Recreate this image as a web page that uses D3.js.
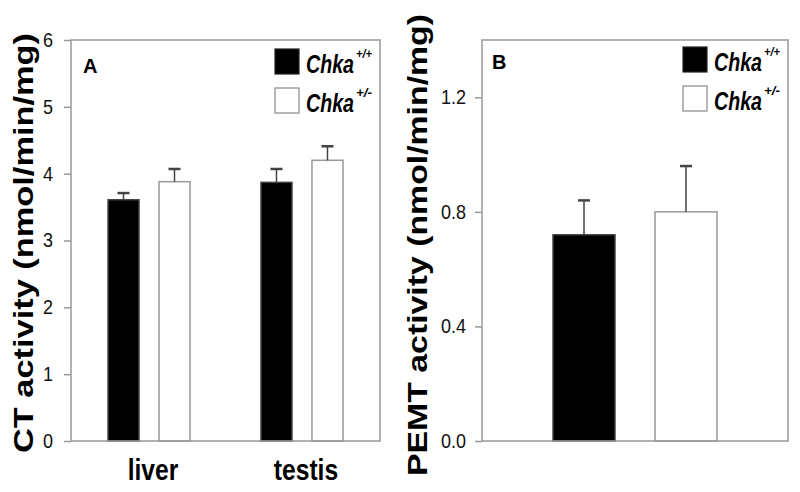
<!DOCTYPE html>
<html>
<head>
<meta charset="utf-8">
<script src="https://cdn.jsdelivr.net/npm/d3@7"></script>
<style>
  body { margin: 0; background: #fff; }
  svg { display: block; }
</style>
</head>
<body>
<div id="chart"></div>
<script>
/** data **/
var genotypes = ["+/+", "+/-"];
var tissues = ["liver", "testis"];
var ctMean = [[3.61, 3.88], [3.87, 4.20]];   // per tissue: [+/+, +/-]
var ctErr = [[0.10, 0.19], [0.20, 0.21]];
var ctTicks = [0, 1, 2, 3, 4, 5, 6];
var pemtMean = [0.72, 0.80];
var pemtErr = [0.12, 0.16];
var pemtTicks = [0, 0.4, 0.8, 1.2];

var width = 800,
    height = 492,
    font = "'Liberation Sans', Arial, sans-serif",
    frameColor = "#999",
    barColor = ["#000", "#fff"],
    barStroke = ["#444", "#999"];

var svg = d3.select("#chart").append("svg")
    .attr("width", width)
    .attr("height", height);

/** panel boxes **/
var panelA = {left: 71, right: 380, top: 40, bottom: 441},
    panelB = {left: 482, right: 788, top: 40, bottom: 441};

/** scales **/
var yA = d3.scaleLinear().domain([0, 6]).range([panelA.bottom, panelA.top]);
var yB = d3.scaleLinear().domain([0, 1.4]).range([panelB.bottom, panelB.top]);

var xA = d3.scalePoint().domain(tissues).range([panelA.left, panelA.right]).padding(0.51);
var subA = d3.scaleBand().domain(genotypes).range([-41, 41]).paddingInner(0.392);

var xB = d3.scalePoint().domain(["PEMT"]).range([panelB.left, panelB.right]).padding(0.5);
var subB = d3.scaleBand().domain(genotypes).range([-82, 82]).paddingInner(0.392);

// squeeze a text node horizontally (the figure uses a condensed face)
function condense(sel, k) {
    sel.each(function() {
        var w = this.getComputedTextLength();
        d3.select(this)
            .attr("textLength", w * k)
            .attr("lengthAdjust", "spacingAndGlyphs");
    });
}

function drawFrame(p) {
    svg.append("rect")
        .attr("x", p.left)
        .attr("y", p.top)
        .attr("width", p.right - p.left)
        .attr("height", p.bottom - p.top)
        .style("fill", "none")
        .style("stroke", frameColor)
        .style("stroke-width", 1.5);
}

function drawAxis(p, y, ticks, fmt, pad) {
    var g = svg.append("g")
        .attr("transform", "translate(" + p.left + ",0)")
        .call(d3.axisLeft(y).tickValues(ticks).tickFormat(fmt).tickSize(7).tickPadding(pad));
    g.attr("font-size", null).attr("font-family", null);
    g.select(".domain").remove();
    g.selectAll(".tick line").style("stroke", frameColor).style("stroke-width", 1.5);
    g.selectAll(".tick text")
        .style("font-family", font)
        .style("font-size", "20px")
        .style("fill", "#111");
    condense(g.selectAll(".tick text"), 0.9);
}

// draw bars + upward error bars for one group
function drawBars(cx, sub, y, means, errs) {
    var data = genotypes.map(function(gt, i) {
        return {gt: gt, i: i, v: means[i], e: errs[i]};
    });
    var g = svg.append("g");
    g.selectAll(".bar")
        .data(data)
        .enter().append("rect")
        .attr("class", "bar")
        .attr("x", function(d) { return cx + sub(d.gt); })
        .attr("y", function(d) { return y(d.v); })
        .attr("width", sub.bandwidth())
        .attr("height", function(d) { return y(0) - y(d.v); })
        .style("fill", function(d) { return barColor[d.i]; })
        .style("stroke", function(d) { return barStroke[d.i]; })
        .style("stroke-width", 1.5);

    g.selectAll(".err")
        .data(data)
        .enter().append("line")
        .attr("class", "err")
        .attr("x1", function(d) { return cx + sub(d.gt) + sub.bandwidth() / 2; })
        .attr("x2", function(d) { return cx + sub(d.gt) + sub.bandwidth() / 2; })
        .attr("y1", function(d) { return y(d.v); })
        .attr("y2", function(d) { return y(d.v + d.e); })
        .style("stroke", "#444")
        .style("stroke-width", 1.5);

    g.selectAll(".cap")
        .data(data)
        .enter().append("line")
        .attr("class", "cap")
        .attr("x1", function(d) { return cx + sub(d.gt) + sub.bandwidth() / 2 - 6; })
        .attr("x2", function(d) { return cx + sub(d.gt) + sub.bandwidth() / 2 + 6; })
        .attr("y1", function(d) { return y(d.v + d.e); })
        .attr("y2", function(d) { return y(d.v + d.e); })
        .style("stroke", "#444")
        .style("stroke-width", 2.5);
}

function drawLegend(x, y) {
    genotypes.forEach(function(gt, i) {
        var top = y + i * 39;
        svg.append("rect")
            .attr("x", x)
            .attr("y", top)
            .attr("width", 24)
            .attr("height", 25)
            .style("fill", barColor[i])
            .style("stroke", i ? "#888" : "#222")
            .style("stroke-width", 1.2);
        var t = svg.append("text")
            .attr("x", x + 31)
            .attr("y", top + 24)
            .style("font-family", font)
            .style("font-weight", "bold")
            .style("font-style", "italic");
        t.append("tspan")
            .attr("textLength", 48)
            .attr("lengthAdjust", "spacingAndGlyphs")
            .style("font-size", "26px")
            .text("Chka");
        // superscript genotype
        t.append("tspan")
            .attr("dx", 2)
            .attr("dy", -15)
            .attr("textLength", 16)
            .attr("lengthAdjust", "spacingAndGlyphs")
            .style("font-size", "12px")
            .text(gt);
    });
}

function panelLabel(x, y, s) {
    svg.append("text")
        .attr("x", x)
        .attr("y", y)
        .style("font-family", font)
        .style("font-weight", "bold")
        .style("font-size", "20px")
        .text(s);
}

function yTitle(x, cy, len, s) {
    svg.append("text")
        .attr("transform", "translate(" + x + "," + cy + ") rotate(-90)")
        .attr("text-anchor", "middle")
        .attr("textLength", len)
        .attr("lengthAdjust", "spacingAndGlyphs")
        .style("font-family", font)
        .style("font-weight", "bold")
        .style("font-size", "28px")
        .text(s);
}

/** Panel A **/
tissues.forEach(function(t, k) {
    drawBars(xA(t), subA, yA, ctMean[k], ctErr[k]);
});
drawFrame(panelA);
drawAxis(panelA, yA, ctTicks, d3.format("d"), 11);

var xlab = svg.append("g").selectAll(".xlab")
    .data(tissues)
    .enter().append("text")
    .attr("class", "xlab")
    .attr("x", function(d) { return xA(d) + 4; })
    .attr("y", 480)
    .attr("text-anchor", "middle")
    .style("font-family", font)
    .style("font-weight", "bold")
    .style("font-size", "29px")
    .text(function(d) { return d; });
condense(xlab, 0.85);

drawLegend(275, 49);
panelLabel(83, 73, "A");
yTitle(33, 243, 420, "CT activity (nmol/min/mg)");

/** Panel B **/
drawBars(xB("PEMT"), subB, yB, pemtMean, pemtErr);
drawFrame(panelB);
drawAxis(panelB, yB, pemtTicks, d3.format(".1f"), 9);
drawLegend(683, 47);
panelLabel(492, 69, "B");
yTitle(427, 245, 462, "PEMT activity (nmol/min/mg)");
</script>
</body>
</html>
